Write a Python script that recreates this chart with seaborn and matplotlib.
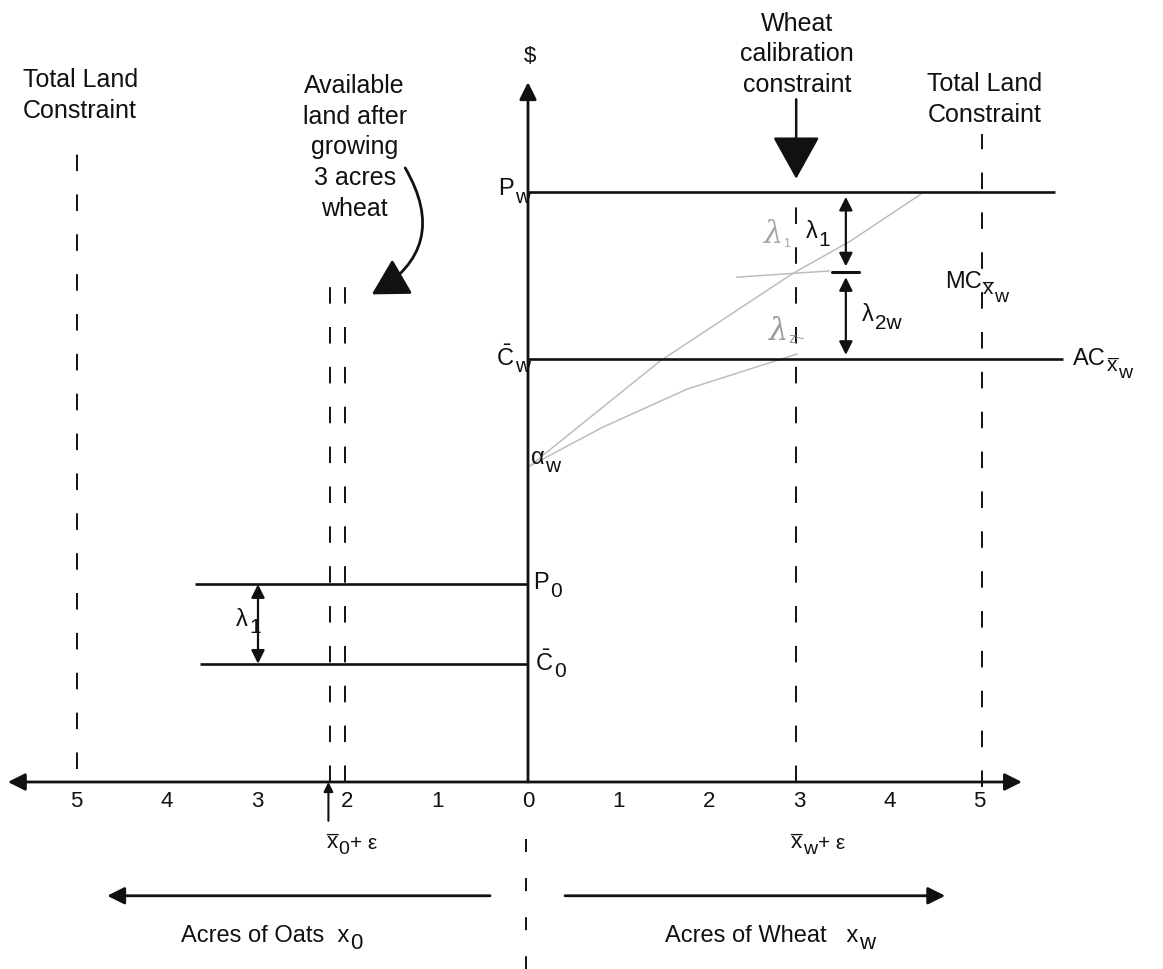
import matplotlib
matplotlib.use("Agg")
import matplotlib.pyplot as plt
import seaborn as sns

# axis ticks (oats to the left, wheat to the right)
tick_vals = [-5, -4, -3, -2, -1, 0, 1, 2, 3, 4, 5]
tick_labels = ["5", "4", "3", "2", "1", "0", "1", "2", "3", "4", "5"]

# price / cost levels: P_w, C_w, P_0, C_0
level_y = [6.53, 4.68, 2.19, 1.31]
level_start = [0.0, 0.0, -3.69, -3.63]
level_end = [5.84, 5.92, 0.0, 0.0]
alpha_w = 3.50
mc_w = 5.65

# vertical constraints
constraint_x = [-4.99, -2.19, -2.03, 2.97, 5.03]
constraint_top = [7.05, 5.70, 5.70, 6.50, 7.18]
constraint_bottom = [0.14, 0.0, 0.0, 0.0, -0.05]

# faint pencil marks
pencil_upper_x = [0.02, 1.46, 2.93, 3.57, 4.35]
pencil_upper_y = [3.50, 4.66, 5.63, 5.99, 6.51]
pencil_lower_x = [0.02, 0.83, 1.76, 2.98]
pencil_lower_y = [3.50, 3.93, 4.35, 4.74]
pencil_flat_x = [2.31, 3.34]
pencil_flat_y = [5.59, 5.66]

sns.set_theme(style="white")
plt.rcParams['font.family'] = ['Liberation Sans', 'DejaVu Sans']
plt.rcParams['mathtext.fontset'] = 'custom'
plt.rcParams['mathtext.rm'] = 'Liberation Sans'
plt.rcParams['mathtext.it'] = 'Liberation Sans'
plt.rcParams['mathtext.bf'] = 'Liberation Sans:bold'

fig = plt.figure(figsize=(11.63, 9.70), dpi=100)
ax = fig.add_axes([0, 0, 1, 1])
ax.set_xlim(-5.847, 7.032)
ax.set_ylim(-2.071, 8.671)
ax.axis("off")

ink = "#111111"
lw_main = 1.9
dash = (0, (8.5, 12))
fs = 18
CBAR = r"$\bar{\mathrm{C}}$"


def arrow(tail, tip, style="-|>", scale=22, lw=lw_main):
    ax.annotate("", xy=tip, xytext=tail,
                arrowprops=dict(arrowstyle=style, lw=lw, color=ink,
                                mutation_scale=scale, shrinkA=0, shrinkB=0))


def chain(x, y, parts):
    """Label built from pieces, each shifted (dy points) from the previous one.
    A piece starting with '~' gets a bar over it."""
    prev = None
    for s, f, dy in parts:
        bar = s.startswith("~")
        s = s.lstrip("~")
        if prev is None:
            prev = ax.text(x, y, s, fontsize=f, ha="left", va="center", color=ink)
        else:
            prev = ax.annotate(s, xy=(1, 0.5), xycoords=prev, xytext=(0.6, dy),
                               textcoords="offset points", fontsize=f,
                               ha="left", va="center", color=ink)
        if bar:
            ax.annotate("\u00af", xy=(0.5, 0.5), xycoords=prev, xytext=(0, -1.5),
                        textcoords="offset points", fontsize=f - 1,
                        ha="center", va="center", color=ink)


# pencil annotations
pencil = "#bdbdbd"
for px, py in [(pencil_upper_x, pencil_upper_y), (pencil_lower_x, pencil_lower_y),
               (pencil_flat_x, pencil_flat_y)]:
    sns.lineplot(x=px, y=py, ax=ax, color=pencil, lw=1.1, sort=False, estimator=None)
ax.text(2.72, 6.07, "λ", fontsize=22, color="#a8a8a8", family="DejaVu Serif", style="italic",
        ha="center", va="center")
ax.text(2.86, 5.97, "1", fontsize=9, color="#a8a8a8", ha="center", va="center")
ax.text(2.78, 5.00, "λ", fontsize=22, color="#9a9a9a", family="DejaVu Serif", style="italic",
        ha="center", va="center")
ax.text(2.97, 4.92, "z~", fontsize=11, color="#9a9a9a", ha="center", va="center")

# axes
arrow((-5.76, 0), (5.47, 0), style="<|-|>", scale=26, lw=2.0)
arrow((0, 0), (0, 7.75), scale=26, lw=2.0)
ax.text(0.02, 8.04, "$", fontsize=16, ha="center", va="center", color=ink)
for v, lab in zip(tick_vals, tick_labels):
    ax.text(v, -0.21, lab, fontsize=16, ha="center", va="center", color=ink)

# level lines
for y, x0, x1 in zip(level_y, level_start, level_end):
    ax.plot([x0, x1], [y, y], color=ink, lw=lw_main, solid_capstyle="butt")

chain(-0.33, level_y[0] + 0.05, [("P", 17, 0), ("w", 15, -6)])
chain(-0.35, level_y[1] + 0.02, [(CBAR, 17, 0), ("w", 15, -6)])
chain(0.06, level_y[2] + 0.02, [("P", 17, 0), ("0", 15, -6)])
chain(0.08, level_y[3] + 0.02, [(CBAR, 17, 0), ("0", 15, -6)])
chain(0.03, alpha_w + 0.10, [("α", 17, 0), ("w", 15, -6)])
chain(6.04, level_y[1] + 0.02, [("AC", 17, 0), ("~x", 15, -5), ("w", 14, -6)])
chain(4.62, 5.55, [("MC", 17, 0), ("~x", 15, -5), ("w", 14, -6)])

# constraint lines
for x, top, bot in zip(constraint_x, constraint_top, constraint_bottom):
    ax.plot([x, x], [bot, top], color=ink, lw=1.4, ls=dash)
ax.plot([-0.02, -0.02], [-0.63, -2.1], color=ink, lw=1.4, ls=(0, (6.7, 13.4)))

# lambda brackets
arrow((-2.99, level_y[3]), (-2.99, level_y[2]), style="<|-|>", scale=20, lw=1.6)
chain(-3.23, (level_y[2] + level_y[3]) / 2 + 0.06, [("λ", 17, 0), ("1", 15, -6)])
arrow((3.52, mc_w + 0.06), (3.52, level_y[0] - 0.05), style="<|-|>", scale=20, lw=1.6)
arrow((3.52, level_y[1] + 0.05), (3.52, mc_w - 0.06), style="<|-|>", scale=20, lw=1.6)
ax.plot([3.37, 3.66], [mc_w, mc_w], color=ink, lw=2.2)
chain(3.08, 6.10, [("λ", 17, 0), ("1", 15, -6)])
chain(3.70, 5.18, [("λ", 17, 0), ("2w", 15, -6)])

# headline texts
head = dict(fontsize=fs, ha="center", va="center", linespacing=1.35, color=ink)
ax.text(-4.96, 7.61, "Total Land\nConstraint", **head)
ax.text(5.06, 7.57, "Total Land\nConstraint", **head)
ax.text(2.98, 8.07, "Wheat\ncalibration\nconstraint", **head)
ax.text(-1.92, 7.04, "Available\nland after\ngrowing\n3 acres\nwheat", **head)

arrow((2.97, 7.56), (2.97, 6.68), style="-|>,head_length=0.9,head_width=0.5", scale=30, lw=1.8)
ax.annotate("", xy=(-1.73, 5.40), xytext=(-1.36, 6.80),
            arrowprops=dict(arrowstyle="-|>,head_length=0.8,head_width=0.45", lw=2.0,
                            color=ink, mutation_scale=28, shrinkA=0, shrinkB=0,
                            connectionstyle="arc3,rad=-0.5"))

# calibration points on the axis
arrow((-2.21, -0.43), (-2.21, 0.0), scale=14, lw=1.5)
chain(-2.23, -0.66, [("~x", 16, 0), ("0", 14, -5), ("+ ε", 15, 4)])
chain(2.91, -0.66, [("~x", 16, 0), ("w", 14, -5), ("+ ε", 15, 4)])

# direction arrows
arrow((-0.42, -1.26), (-4.66, -1.26), scale=26, lw=2.0)
arrow((0.41, -1.26), (4.62, -1.26), scale=26, lw=2.0)
chain(-3.84, -1.69, [("Acres of Oats  x", 17, 0), ("0", 16, -6)])
chain(1.52, -1.69, [("Acres of Wheat   x", 17, 0), ("w", 16, -6)])

fig.savefig("out.png", dpi=100, facecolor="white")
